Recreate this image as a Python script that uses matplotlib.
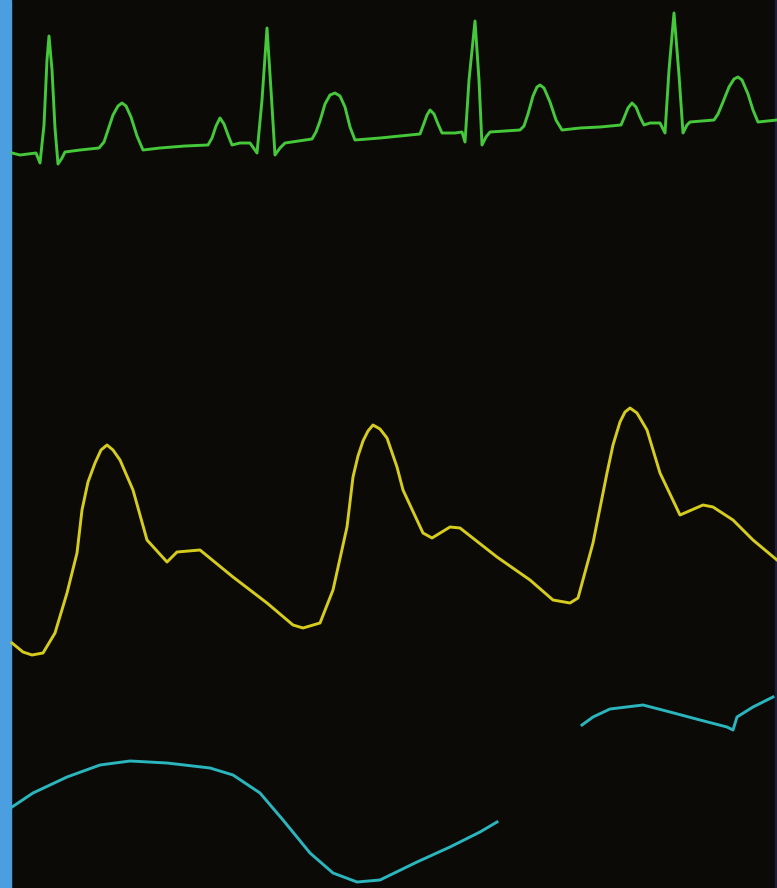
import matplotlib.pyplot as plt

# ------------- Trace data (screen units, y grows downward) ------------- #
ecg_x = [12, 20, 36, 40, 44, 47, 49, 52, 55, 58, 62, 65, 80, 99,
         104, 108, 113, 118, 122, 126, 131, 137, 143, 160, 185, 208,
         212, 216, 220, 224, 228, 232, 240, 250, 257, 262, 267, 271, 275,
         280, 285, 312,
         316, 320, 325, 330, 335, 340, 345, 350, 355, 380, 400, 420,
         423, 427, 430, 434, 438, 442, 455, 462, 465, 469, 475, 479, 482,
         486, 490, 520,
         524, 528, 533, 537, 540, 544, 550, 556, 562, 580, 600, 621,
         624, 628, 632, 636, 640, 644, 650, 660, 665, 669, 674, 679, 683,
         687, 690, 714,
         718, 723, 729, 734, 738, 742, 748, 753, 758, 777]
ecg_y = [153, 155, 153, 163, 125, 60, 36, 70, 128, 164, 158, 152, 150, 148,
         142, 130, 115, 106, 103, 106, 117, 136, 150, 148, 146, 145,
         138, 126, 118, 124, 135, 145, 143, 143, 153, 100, 28, 90, 155,
         148, 143, 139,
         132, 121, 104, 95, 93, 96, 107, 127, 140, 138, 136, 134,
         126, 115, 110, 114, 124, 133, 133, 132, 142, 80, 21, 80, 145,
         137, 132, 130,
         126, 114, 96, 87, 85, 88, 102, 120, 130, 128, 127, 125,
         118, 108, 103, 107, 117, 125, 123, 123, 133, 70, 13, 75, 133,
         125, 122, 120,
         114, 102, 87, 79, 77, 80, 94, 110, 122, 120]

art_x = [12, 23, 32, 43, 55, 67, 77, 82, 88, 95, 101, 107, 113, 120, 133,
         147, 167, 177, 200, 233, 267, 293, 303, 320, 333, 347, 353, 358,
         363, 368, 373, 380, 387, 397, 403, 423, 432, 450, 460, 497, 530,
         553, 570, 578, 593, 607, 613, 620, 625, 630, 637, 647, 660, 680,
         703, 713, 733, 753, 777]
art_y = [643, 652, 655, 653, 633, 593, 553, 510, 482, 463, 450, 445, 450,
         460, 490, 540, 562, 552, 550, 577, 603, 625, 628, 623, 590, 527,
         477, 456, 441, 431, 425, 429, 438, 467, 490, 533, 538, 527, 528,
         557, 580, 600, 603, 598, 543, 473, 445, 422, 412, 408, 413, 430,
         473, 515, 505, 507, 520, 540, 560]

resp1_x = [12, 33, 67, 100, 130, 167, 210, 233, 260, 283, 310, 333, 357,
           380, 417, 450, 480, 497]
resp1_y = [807, 793, 777, 765, 761, 763, 768, 775, 793, 820, 853, 873, 882,
           880, 862, 847, 832, 822]

resp2_x = [582, 593, 610, 643, 670, 700, 727, 733, 737, 753, 773]
resp2_y = [725, 717, 709, 705, 712, 720, 727, 730, 717, 707, 697]

# ------------- Plot Setup ------------- #
fig = plt.figure(figsize=(7.77, 8.88), dpi=100)
fig.patch.set_facecolor('#0c0a07')
ax = fig.add_axes([0, 0, 1, 1])
ax.set_facecolor('#0c0a07')
ax.set_xlim(0, 777)
ax.set_ylim(888, 0)
ax.axis('off')

# monitor frame
ax.axvspan(0, 11, color='#4b9fe0', zorder=1)
ax.axvspan(775, 777, color='#1c1e3c', zorder=1)

# ------------- Traces ------------- #
ax.plot(ecg_x, ecg_y, color='#45c83a', linewidth=2.1, solid_joinstyle='round')
ax.plot(art_x, art_y, color='#d6cc1e', linewidth=2.1, solid_joinstyle='round')
ax.plot(resp1_x, resp1_y, color='#2bb5bd', linewidth=2.1, solid_joinstyle='round')
ax.plot(resp2_x, resp2_y, color='#2bb5bd', linewidth=2.1, solid_joinstyle='round')

fig.savefig('out.png', dpi=100, facecolor=fig.get_facecolor())
